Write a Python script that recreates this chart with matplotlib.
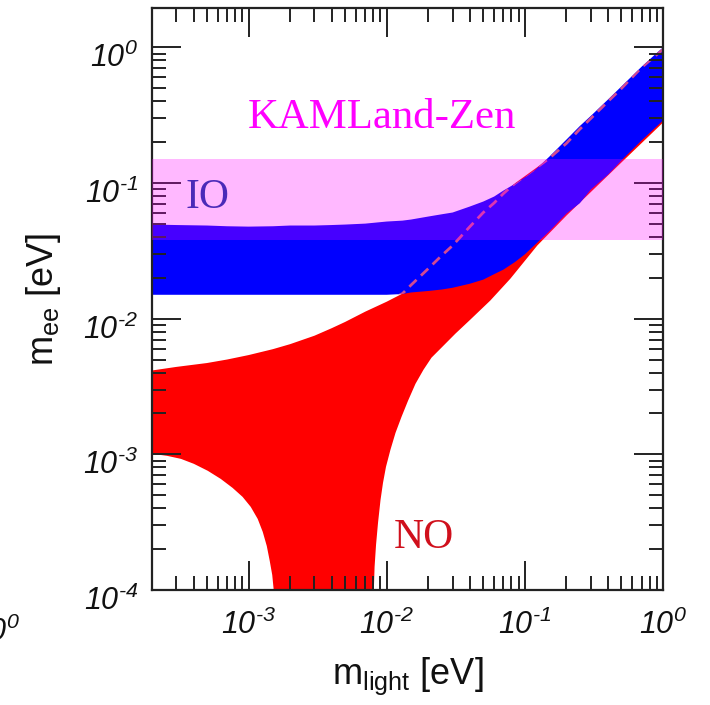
import numpy as np
import matplotlib
matplotlib.use("Agg")
import matplotlib.pyplot as plt
from matplotlib.ticker import LogLocator, FuncFormatter, NullFormatter
from matplotlib.transforms import ScaledTranslation

plt.rcParams['font.family'] = ['Liberation Sans', 'DejaVu Sans']
plt.rcParams['mathtext.fontset'] = 'custom'
plt.rcParams['mathtext.rm'] = 'Liberation Sans:italic'
plt.rcParams['mathtext.it'] = 'Liberation Sans:italic'
plt.rcParams['mathtext.sf'] = 'Liberation Sans'

# ---- data (eV) ----
m_grid = [2e-4, 3e-4, 5e-4, 7e-4, 1e-3, 1.5e-3, 2e-3, 3e-3, 4e-3, 5e-3, 7e-3, 0.01,
          0.013, 0.015, 0.02, 0.025, 0.03, 0.04, 0.05, 0.06, 0.07, 0.085, 0.1, 0.12,
          0.15, 0.2, 0.25, 0.3, 0.4, 0.5, 0.7, 1.0]
io_upper = [0.0494, 0.0490, 0.0486, 0.0480, 0.0477, 0.0480, 0.0486, 0.0486, 0.0490,
            0.0494, 0.0502, 0.0520, 0.0528, 0.0538, 0.0566, 0.0588, 0.0606, 0.0671,
            0.0730, 0.0795, 0.0880, 0.0988, 0.110, 0.126, 0.156, 0.209, 0.263, 0.312,
            0.413, 0.515, 0.72, 1.0]
io_lower = [0.0150, 0.0150, 0.0150, 0.0150, 0.0150, 0.0150, 0.0150, 0.0150, 0.0150,
            0.0150, 0.0150, 0.0150, 0.0152, 0.0156, 0.0160, 0.0164, 0.0169, 0.0181,
            0.0194, 0.0213, 0.0230, 0.0262, 0.0298, 0.0355, 0.0440, 0.0596, 0.0710,
            0.0895, 0.1153, 0.1466, 0.206, 0.289]
no_upper = [0.00415, 0.00441, 0.00471, 0.00500, 0.00539, 0.00596, 0.00649, 0.00749,
            0.00851, 0.00946, 0.01127, 0.01334, 0.0153, 0.0177, 0.0234, 0.0292, 0.0346,
            0.0477, 0.0606, 0.0714, 0.0837, 0.0997, 0.1124, 0.1286, 0.152, 0.196,
            0.2494, 0.299, 0.3995, 0.498, 0.711, 0.967]
no_lower_m = [2.0e-4, 2.57e-4, 3.24e-4, 4.02e-4, 5.07e-4, 6.29e-4, 7.66e-4, 9.05e-4,
              1.037e-3, 1.165e-3, 1.267e-3, 1.355e-3, 1.423e-3, 1.484e-3, 1.521e-3,
              1.55e-3, 8.0e-3, 8.07e-3, 8.17e-3, 8.37e-3, 8.65e-3, 9.02e-3, 9.40e-3,
              9.88e-3, 0.01064, 0.01158, 0.01280, 0.01426, 0.01615, 0.01845, 0.0211,
              0.0245, 0.0314, 0.0403, 0.0562, 0.0785, 0.123, 0.2, 0.5, 1.0]
no_lower = [1.009e-3, 9.75e-4, 9.26e-4, 8.51e-4, 7.56e-4, 6.59e-4, 5.66e-4, 4.86e-4,
            4.10e-4, 3.34e-4, 2.68e-4, 2.11e-4, 1.64e-4, 1.29e-4, 1.0e-4,
            1e-5, 1e-5, 1.0e-4, 1.48e-4, 2.15e-4, 3.12e-4, 4.61e-4, 6.16e-4,
            8.09e-4, 1.08e-3, 1.44e-3, 1.89e-3, 2.48e-3, 3.31e-3, 4.20e-3, 5.16e-3,
            6.01e-3, 7.75e-3, 9.84e-3, 0.0136, 0.0197, 0.0346, 0.0575, 0.1417, 0.279]
kamland_range = [0.038, 0.151]
x_limits = [2e-4, 1.0]
y_limits = [1e-4, 1.95]

fig = plt.figure(figsize=(7.1, 7.05), dpi=100)
ax = fig.add_axes([152/710, (705-590)/705, 511/710, 582/705])
ax.set_xscale('log')
ax.set_yscale('log')

# NO region
no_poly_x = list(m_grid) + list(no_lower_m[::-1])
no_poly_y = list(no_upper) + list(no_lower[::-1])
ax.fill(no_poly_x, no_poly_y, color='#ff0000', lw=0, zorder=1)

# IO region
io_poly_x = list(m_grid) + list(m_grid[::-1])
io_poly_y = list(io_upper) + list(io_lower[::-1])
io_patch = ax.fill(io_poly_x, io_poly_y, color='#0000ff', lw=0, zorder=1.2)[0]

# NO upper boundary dashed over IO
ln, = ax.plot(m_grid, no_upper, color='#d24a92', lw=2.0, ls=(0, (3.6, 2.2)), zorder=1.4)
ln.set_clip_path(io_patch)

# KamLAND-Zen band
ax.axhspan(kamland_range[0], kamland_range[1], color='#ff00ff', alpha=0.28,
           lw=0, zorder=3, clip_on=False)

ax.set_xlim(*x_limits)
ax.set_ylim(*y_limits)

def fmt(v, pos):
    e = int(round(np.log10(v)))
    s = r'\text{-}%d' % (-e) if e < 0 else '%d' % e
    return r'$\mathrm{10}^{%s}$' % s

for axis in (ax.xaxis, ax.yaxis):
    axis.set_major_locator(LogLocator(base=10, numticks=20))
    axis.set_minor_locator(LogLocator(base=10, subs=np.arange(2, 10), numticks=100))
    axis.set_major_formatter(FuncFormatter(fmt))
    axis.set_minor_formatter(NullFormatter())

ax.tick_params(which='both', direction='in', top=True, right=True,
               width=1.4, color='#222222', labelcolor='#111111', labelsize=22)
ax.tick_params(which='major', length=21)
ax.tick_params(which='minor', length=10)
ax.tick_params(axis='x', which='major', pad=14)
ax.tick_params(axis='y', which='major', pad=10)
for sp in ax.spines.values():
    sp.set_linewidth(1.6)
    sp.set_color('#222222')

# shift y tick labels slightly downward as in the reference
off = ScaledTranslation(0, -8/100, fig.dpi_scale_trans)
for t in ax.yaxis.get_major_ticks():
    t.label1.set_transform(t.label1.get_transform() + off)

ax.set_xlabel(r'm$_{\mathsf{light}}$ [eV]', fontsize=26, color='#111111')
ax.set_ylabel(r'm$_{\mathsf{ee}}$ [eV]', fontsize=26, color='#111111')
ax.xaxis.set_label_coords(0.5, -0.113)
ax.yaxis.set_label_coords(-0.175, 0.5)

ax.text(0.188, 0.794, 'KAMLand-Zen', transform=ax.transAxes, color='#ff00ff',
        fontsize=30.8, family='Liberation Serif', va='baseline', ha='left', zorder=5)
ax.text(0.065, 0.656, 'IO', transform=ax.transAxes, color='#4a2ab8',
        fontsize=30, family='Liberation Serif', va='baseline', ha='left', zorder=5)
ax.text(0.474, 0.0722, 'NO', transform=ax.transAxes, color='#d0101c',
        fontsize=30, family='Liberation Serif', va='baseline', ha='left', zorder=5)

# clipped tick label of a neighbouring panel at the left edge
fig.text(20/710, (705-641)/705, r'$\mathrm{10}^{0}$', fontsize=22,
         ha='right', va='baseline', color='#111111')

fig.savefig('out.png', dpi=100)
